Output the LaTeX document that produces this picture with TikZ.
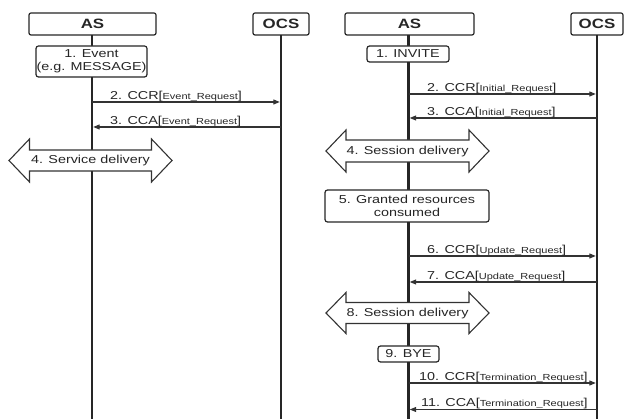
\documentclass[tikz,border=0pt]{standalone}
\usepackage{fontspec}
\setmainfont[FakeStretch=1.25]{Liberation Sans}
\usetikzlibrary{arrows.meta}
\newcommand\reqtype[1]{{\fontsize{8.8}{9}\selectfont #1}}
\begin{document}
\begin{tikzpicture}[x=1pt,y=-1pt,
  every node/.style={text=black!85},
  hdr/.style={draw=black!85, line width=1.2pt, rounded corners=2pt, fill=white,
    inner sep=0pt, minimum height=22pt, font=\fontsize{13.5}{15}\selectfont\bfseries},
  life/.style={line width=2.4pt, draw=black!85},
  stepbox/.style={draw=black!85, line width=1.2pt, rounded corners=2.5pt, fill=white,
    inner sep=0pt, align=center, font=\fontsize{11.5}{13}\selectfont},
  msg/.style={line width=1.1pt, draw=black!80, shorten >=1.2pt,
    -{Triangle[length=6.5pt,width=5pt]}},
  lbl/.style={anchor=base west, inner sep=0pt, font=\fontsize{11.5}{13}\selectfont},
  dlv/.style={draw=black!80, line width=1.1pt, fill=white, line join=miter},
  dlvtext/.style={inner sep=0pt, font=\fontsize{11.5}{13}\selectfont}
]
\useasboundingbox (0,0) rectangle (624,419);

% ---------- lifelines ----------
\coordinate (asLtop) at (92,35);   \coordinate (asLbot) at (92,420);
\coordinate (ocsLtop) at (281,35); \coordinate (ocsLbot) at (281,420);
\coordinate (asRtop) at (408.5,35);\coordinate (asRbot) at (408.5,420);
\coordinate (ocsRtop) at (597,35); \coordinate (ocsRbot) at (597,420);
\draw[life] (asLtop) -- (asLbot);
\draw[life] (ocsLtop) -- (ocsLbot);
\draw[life] (asRtop) -- (asRbot);
\draw[life] (ocsRtop) -- (ocsRbot);

% ---------- headers ----------
\node[hdr, minimum width=127pt] (asL)  at (92.5,24) {AS};
\node[hdr, minimum width=56pt]  (ocsL) at (281,24)  {OCS};
\node[hdr, minimum width=129pt] (asR)  at (409.5,24) {AS};
\node[hdr, minimum width=52pt]  (ocsR) at (597,24)  {OCS};

% ---------- event-based charging (left) ----------
\node[stepbox, minimum width=111pt, minimum height=31pt] (ev) at (91.5,61.5)
  {1. Event\\(e.g. MESSAGE)};

\coordinate (l2a) at (92,102);  \coordinate (l2b) at (281,102);
\coordinate (l3a) at (281,127); \coordinate (l3b) at (92,127);
\draw[msg] (l2a) -- (l2b);
\draw[msg] (l3a) -- (l3b);
\node[lbl] (t2L) at (110,99.5)  {2. CCR[\reqtype{Event\_Request}]};
\node[lbl] (t3L) at (110,124.5) {3. CCA[\reqtype{Event\_Request}]};

\draw[dlv, shift={(90.5,160.5)}] (-81.5,0) -- (-61,-21.5) -- (-61,-10.5) -- (61,-10.5)
  -- (61,-21.5) -- (81.5,0) -- (61,21.5) -- (61,10.5) -- (-61,10.5) -- (-61,21.5) -- cycle;
\node[dlvtext] (d4L) at (90.5,161) {4. Service delivery};

% ---------- session-based charging (right) ----------
\node[stepbox, minimum width=82pt, minimum height=16pt] (inv) at (408,54) {1. INVITE};

\coordinate (r2a) at (408.5,94);  \coordinate (r2b) at (597,94);
\coordinate (r3a) at (597,118);   \coordinate (r3b) at (408.5,118);
\draw[msg] (r2a) -- (r2b);
\draw[msg] (r3a) -- (r3b);
\node[lbl] (t2R) at (427,91.5)  {2. CCR[\reqtype{Initial\_Request}]};
\node[lbl] (t3R) at (427,115.5) {3. CCA[\reqtype{Initial\_Request}]};

\draw[dlv, shift={(407.5,151)}] (-81.5,0) -- (-61.5,-21) -- (-61.5,-11) -- (61.5,-11)
  -- (61.5,-21) -- (81.5,0) -- (61.5,21) -- (61.5,11) -- (-61.5,11) -- (-61.5,21) -- cycle;
\node[dlvtext] (d4R) at (407.5,151.5) {4. Session delivery};

\node[stepbox, minimum width=164pt, minimum height=32pt] (grant) at (407,206)
  {5. Granted resources\\consumed};

\coordinate (r6a) at (408.5,256); \coordinate (r6b) at (597,256);
\coordinate (r7a) at (597,282);   \coordinate (r7b) at (408.5,282);
\draw[msg] (r6a) -- (r6b);
\draw[msg] (r7a) -- (r7b);
\node[lbl] (t6R) at (427,253.5) {6. CCR[\reqtype{Update\_Request}]};
\node[lbl] (t7R) at (427,279.5) {7. CCA[\reqtype{Update\_Request}]};

\draw[dlv, shift={(407.5,313)}] (-81.5,0) -- (-61.5,-20.5) -- (-61.5,-10.5) -- (61.5,-10.5)
  -- (61.5,-20.5) -- (81.5,0) -- (61.5,20.5) -- (61.5,10.5) -- (-61.5,10.5) -- (-61.5,20.5) -- cycle;
\node[dlvtext] (d8R) at (407.5,313.5) {8. Session delivery};

\node[stepbox, minimum width=61pt, minimum height=16pt] (bye) at (408.5,354) {9. BYE};

\coordinate (r10a) at (408.5,383); \coordinate (r10b) at (597,383);
\coordinate (r11a) at (597,409.5); \coordinate (r11b) at (408.5,409.5);
\draw[msg] (r10a) -- (r10b);
\draw[msg] (r11a) -- (r11b);
\node[lbl] (t10R) at (419,380.5) {10. CCR[\reqtype{Termination\_Request}]};
\node[lbl] (t11R) at (421,407)   {11. CCA[\reqtype{Termination\_Request}]};
\end{tikzpicture}
\end{document}
